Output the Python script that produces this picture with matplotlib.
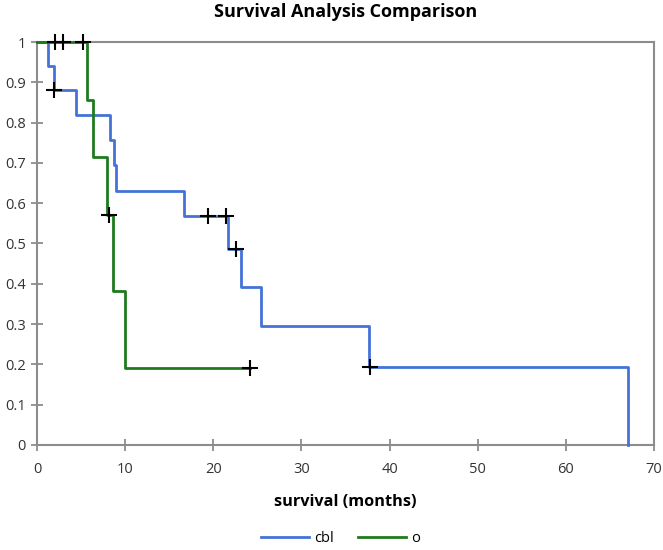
import matplotlib.pyplot as plt

# Kaplan-Meier steps
cbl_time = [0, 1.25, 1.9, 4.4, 8.3, 8.7, 8.95, 16.7, 21.7, 23.1, 25.4, 37.7, 67.05]
cbl_surv = [1.0, 0.94, 0.88, 0.82, 0.757, 0.694, 0.63, 0.567, 0.486, 0.392, 0.294, 0.194, 0.0]
cbl_cens_time = [1.9, 19.4, 21.5, 22.6, 37.8]
cbl_cens_surv = [0.88, 0.567, 0.567, 0.486, 0.194]

o_time = [0, 5.7, 6.3, 7.9, 8.6, 9.98, 24.2]
o_surv = [1.0, 0.857, 0.714, 0.571, 0.381, 0.19, 0.19]
o_cens_time = [2.0, 2.9, 5.25, 8.2, 24.2]
o_cens_surv = [1.0, 1.0, 1.0, 0.571, 0.19]

xticks = list(range(0, 71, 10))
yticks = [i / 10 for i in range(11)]
ytick_labels = ['0', '0.1', '0.2', '0.3', '0.4', '0.5', '0.6', '0.7', '0.8', '0.9', '1']

plt.rcParams['font.family'] = ['Open Sans', 'DejaVu Sans']

fig = plt.figure(figsize=(6.63, 5.5), dpi=100)
ax = fig.add_axes([0.0558, 0.191, 0.9306, 0.7326])

blue = '#4472d8'
green = '#1f7a1f'
ax.step(cbl_time, cbl_surv, where='post', color=blue, lw=2, label='cbl',
        zorder=3, clip_on=False)
ax.step(o_time, o_surv, where='post', color=green, lw=2, label='o',
        zorder=4, clip_on=False)
ax.plot(cbl_cens_time, cbl_cens_surv, '+', color='black', ms=11, mew=1.5,
        zorder=5, clip_on=False)
ax.plot(o_cens_time, o_cens_surv, '+', color='black', ms=11, mew=1.5,
        zorder=5, clip_on=False)

ax.set_xlim(0, 70)
ax.set_ylim(0, 1)
ax.set_xticks(xticks)
ax.set_yticks(yticks)
ax.set_yticklabels(ytick_labels)
for s in ax.spines.values():
    s.set_color('#8c8c8c')
    s.set_linewidth(1.5)
    s.set_zorder(2)
ax.tick_params(direction='inout', length=9, width=1.3, color='#8c8c8c',
               labelsize=10.5, labelcolor='#333333')
ax.tick_params(axis='x', pad=8)

ax.set_title('Survival Analysis Comparison', fontsize=13, fontweight='bold', pad=18)
ax.set_xlabel('survival (months)', fontsize=11.7, fontweight='bold', labelpad=12)

fig.legend(loc='center', bbox_to_anchor=(0.513, 0.02), ncol=2, frameon=False,
           fontsize=10.5, handlelength=3.35, handletextpad=0.3, columnspacing=1.65)

plt.savefig('out.png', dpi=100)
